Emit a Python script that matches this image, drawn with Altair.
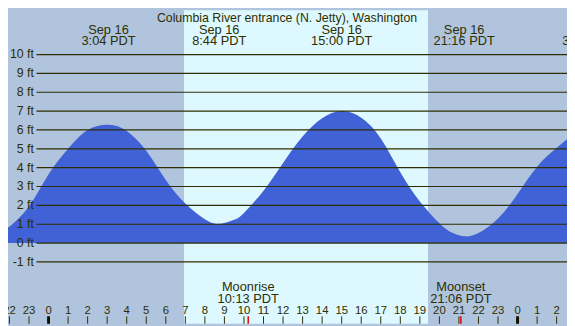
import altair as alt
import pandas as pd

# ---------------- data ----------------
title_text = "Columbia River entrance (N. Jetty), Washington"

tide_hours = [-2.5, -2, -1, 0, 1, 2, 3.07, 4, 5, 6, 7, 8, 8.73, 9.5, 10, 11, 12, 13, 14,
              15.0, 16, 17, 18, 19, 20, 20.6, 21.27, 22, 23, 24, 25, 26, 27]
tide_ft = [0.62, 0.88, 1.95, 3.65, 5.0, 6.0, 6.28, 5.95, 4.9, 3.35, 2.1, 1.26, 1.02,
           1.24, 1.6, 2.78, 4.25, 5.65, 6.62, 7.0, 6.65, 5.55, 3.75, 2.2, 1.05, 0.58,
           0.36, 0.53, 1.3, 2.6, 4.05, 5.05, 5.9]

extreme_hours = [3.067, 8.733, 15.0, 21.267, 27.67]
extreme_dates = ["Sep 16", "Sep 16", "Sep 16", "Sep 16", "Sep 17"]
extreme_times = ["3:04 PDT", "8:44 PDT", "15:00 PDT", "21:16 PDT", "3:40 PDT"]

sunrise_hour = 6.93
sunset_hour = 19.42

moon_hours = [10.217, 21.1]
moon_events = ["Moonrise", "Moonset"]
moon_times = ["10:13 PDT", "21:06 PDT"]

hour_ticks = list(range(-2, 27))
hour_labels = [str(h % 24) for h in hour_ticks]
midnight_hours = [0, 24]

grid_ft = list(range(-1, 11))
grid_labels = [f"{v} ft" for v in grid_ft]

# ---------------- layout / style ----------------
W, H = 567, 318
KX, KY = W / 575, H / 326
X_DOMAIN = [-2.075, 26.53]
Y_DOMAIN = [-4.28, 12.35]
NIGHT = "#b0c4de"
DAY = "#ddf8ff"
WATER = "#4161d6"
INK = "#2e2e00"
FONT = "Liberation Sans"

xs = alt.Scale(domain=X_DOMAIN, nice=False, zero=False)
ys = alt.Scale(domain=Y_DOMAIN, nice=False, zero=False)

tide_df = pd.DataFrame({"hour": tide_hours, "ft": tide_ft})
ext_df = pd.DataFrame({"hour": extreme_hours, "date": extreme_dates, "time": extreme_times})
moon_df = pd.DataFrame({"hour": moon_hours, "event": moon_events, "time": moon_times})
hours_df = pd.DataFrame({"hour": hour_ticks, "label": hour_labels})
mid_df = pd.DataFrame({"hour": midnight_hours})
grid_df = pd.DataFrame({"ft": grid_ft, "label": grid_labels})
sun_df = pd.DataFrame({"rise": [sunrise_hour], "set": [sunset_hour]})
title_df = pd.DataFrame({"t": [title_text]})

X = lambda f: alt.X(f, type="quantitative", scale=xs, axis=None)
Y = lambda f: alt.Y(f, type="quantitative", scale=ys, axis=None)

day = alt.Chart(sun_df).mark_rect(color=DAY).encode(
    x=X("rise"), x2="set", y=alt.value(0), y2=alt.value(H))

water = alt.Chart(tide_df).mark_area(color=WATER, interpolate="natural", clip=True,
                                     opacity=1).encode(
    x=X("hour"), y=Y("ft"), y2=alt.value(H))

grid = alt.Chart(grid_df).mark_rule(color=INK, strokeWidth=1.2).encode(
    y=Y("ft"), x=alt.value(29.3 * KX), x2=alt.value(W))

grid_text = alt.Chart(grid_df).mark_text(
    align="right", baseline="middle", font=FONT, fontSize=12.5, color=INK
).encode(y=Y("ft"), x=alt.value(26.7 * KX), text="label:N")

title = alt.Chart(title_df).mark_text(
    align="center", baseline="alphabetic", font=FONT, fontSize=12.5, color=INK
).encode(x=alt.value(287 * KX), y=alt.value(12 * KY), text="t:N")

ext_date = alt.Chart(ext_df).mark_text(
    align="center", baseline="alphabetic", font=FONT, fontSize=13, color=INK
).encode(x=X("hour"), y=alt.value(24.3 * KY), text="date:N")

ext_time = alt.Chart(ext_df).mark_text(
    align="center", baseline="alphabetic", font=FONT, fontSize=13, color=INK
).encode(x=X("hour"), y=alt.value(35.9 * KY), text="time:N")

moon_event = alt.Chart(moon_df).mark_text(
    align="center", baseline="alphabetic", font=FONT, fontSize=13, color=INK
).encode(x=X("hour"), y=alt.value(291.7 * KY), text="event:N")

moon_time = alt.Chart(moon_df).mark_text(
    align="center", baseline="alphabetic", font=FONT, fontSize=13, color=INK
).encode(x=X("hour"), y=alt.value(304 * KY), text="time:N")

hour_text = alt.Chart(hours_df).mark_text(
    align="center", baseline="alphabetic", font=FONT, fontSize=11.5, color=INK
).encode(x=X("hour"), y=alt.value(316 * KY), text="label:N")

hour_tick = alt.Chart(hours_df).mark_rule(color=INK, strokeWidth=1).encode(
    x=X("hour"), y=alt.value(318.3 * KY), y2=alt.value(H))

mid_tick = alt.Chart(mid_df).mark_rule(color="#111100", strokeWidth=3).encode(
    x=X("hour"), y=alt.value(318.3 * KY), y2=alt.value(H))

moon_tick = alt.Chart(moon_df).mark_rule(color="#e00000", strokeWidth=1.5).encode(
    x=X("hour"), y=alt.value(318.3 * KY), y2=alt.value(H))

chart = alt.layer(
    day, water, grid, grid_text, title, ext_date, ext_time,
    moon_event, moon_time, hour_text, hour_tick, mid_tick, moon_tick
).properties(
    width=W, height=H, padding=0, background=NIGHT,
    autosize=alt.AutoSizeParams(type="none")
).configure_view(strokeWidth=0, fill=NIGHT)

chart.save("out.html", embed_options={"renderer": "svg", "actions": False})
